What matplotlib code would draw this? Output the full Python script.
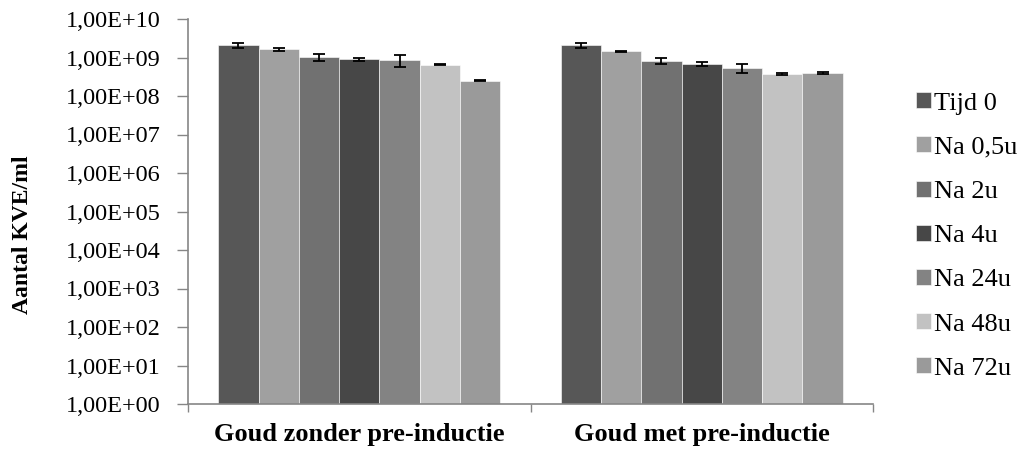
import numpy as np
import matplotlib
matplotlib.use('Agg')
import matplotlib.pyplot as plt
from matplotlib.ticker import FixedLocator, FuncFormatter


groups = ['Goud zonder pre-inductie', 'Goud met pre-inductie']
series = ['Tijd 0', 'Na 0,5u', 'Na 2u', 'Na 4u', 'Na 24u', 'Na 48u', 'Na 72u']
colors = ['#575757', '#a0a0a0', '#717171', '#474747', '#838383', '#c2c2c2', '#9a9a9a']

# KVE/ml per time point, one list per group
zonder = [2.1e9, 1.66e9, 1.05e9, 0.915e9, 0.86e9, 0.65e9, 2.52e8]
zonder_err = [0.3e9, 0.15e9, 0.22e9, 0.08e9, 0.28e9, 0.02e9, 0.01e9]
met = [2.1e9, 1.47e9, 0.81e9, 0.68e9, 0.536e9, 0.376e9, 0.40e9]
met_err = [0.3e9, 0.04e9, 0.15e9, 0.07e9, 0.13e9, 0.02e9, 0.02e9]

plt.rcParams['font.family'] = ['Liberation Serif', 'DejaVu Serif']

fig = plt.figure(figsize = (10.21, 4.5), dpi = 100)
ax = fig.add_axes([188 / 1021, 1 - 404 / 450, 685 / 1021, (404 - 19) / 450])

values = np.array([zonder, met])
errors = np.array([zonder_err, met_err])
x = np.arange(len(groups))
group_w = 0.823
bar_w = group_w / len(series)

for i, name in enumerate(series):
	pos = x - group_w / 2 + bar_w * (i + 0.5)
	ax.bar(pos, values[:, i], bar_w, bottom = 1, color = colors[i], label = name,
		edgecolor = 'white', linewidth = 0.4)
	ax.errorbar(pos, values[:, i], yerr = errors[:, i], fmt = 'none', ecolor = 'black',
		elinewidth = 1.3, capsize = 4.3, capthick = 1.3)

ax.set_yscale('log')
ax.set_ylim(1, 1e10)
ax.set_xlim(-0.5, 1.5)

decades = [10.0 ** k for k in range(11)]
ax.yaxis.set_major_locator(FixedLocator(decades))
ax.yaxis.set_minor_locator(FixedLocator([]))
ax.yaxis.set_major_formatter(FuncFormatter(lambda v, p: '1,00E+%02d' % int(round(np.log10(v)))))
ax.tick_params(axis = 'y', which = 'major', direction = 'out', length = 8, width = 1,
	color = '#868686', labelsize = 17.5, pad = 11.5)

ax.set_xticks(x)
ax.set_xticklabels(groups, fontsize = 19, fontweight = 'bold')
ax.set_xticks([-0.5, 0.5, 1.5], minor = True)
ax.tick_params(axis = 'x', which = 'major', length = 0, pad = 14)
ax.tick_params(axis = 'x', which = 'minor', direction = 'out', length = 6, width = 1, color = '#868686')

for side in ['top', 'right']:
	ax.spines[side].set_visible(False)
for side in ['left', 'bottom']:
	ax.spines[side].set_color('#868686')
	ax.spines[side].set_linewidth(1.2)

fig.text(23 / 1021, 1 - 235 / 450, 'Aantal KVE/ml', rotation = 90, ha = 'center', va = 'center',
	fontsize = 17, fontweight = 'bold')

fig.legend(loc = 'center left', bbox_to_anchor = (916 / 1021, 1 - 236 / 450), frameon = False,
	fontsize = 19, handlelength = 0.55, handleheight = 0.55, handletextpad = 0.15,
	labelspacing = 0.83, borderpad = 0, borderaxespad = 0)

fig.savefig('out.png', dpi = 100)
